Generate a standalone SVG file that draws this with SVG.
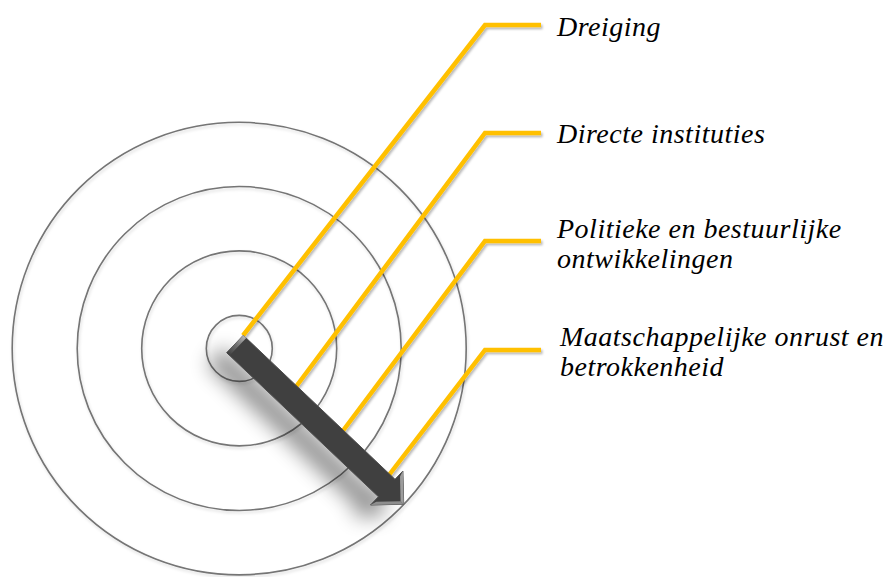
<svg xmlns="http://www.w3.org/2000/svg" xmlns:xlink="http://www.w3.org/1999/xlink" width="890" height="577" viewBox="0 0 890 577">
  <style>
    .ring { fill: none; stroke: #747474; stroke-width: 1.6; }
    .lead { fill: none; stroke: #FFC000; stroke-width: 4.5; stroke-linejoin: miter; stroke-linecap: butt; }
    .lbl { font-family: "Liberation Serif", "Times New Roman", serif; font-style: italic; font-size: 28px; letter-spacing: 0.5px; fill: #000; }
  </style>
  <defs>
    <filter id="soft" x="-10%" y="-10%" width="120%" height="120%">
      <feDropShadow dx="1.5" dy="2" stdDeviation="1.3" flood-color="#000" flood-opacity="0.28"/>
    </filter>
    <filter id="ringShadow" x="-10%" y="-10%" width="120%" height="120%">
      <feDropShadow dx="1" dy="2" stdDeviation="1.5" flood-color="#000" flood-opacity="0.15"/>
    </filter>
    <filter id="blur" x="-50%" y="-50%" width="200%" height="200%">
      <feGaussianBlur stdDeviation="10"/>
    </filter>
    <polygon id="arrowShape" points="226.7,352.7 243.3,335.3 395.0,479.3 402.9,471.0 403.7,504.2 370.5,505.0 378.4,496.7"/>
    <linearGradient id="tailBevel" x1="243.3" y1="335.3" x2="226.7" y2="352.7" gradientUnits="userSpaceOnUse">
      <stop offset="0" stop-color="#b5b5b5"/>
      <stop offset="0.5" stop-color="#6e6e6e"/>
      <stop offset="1" stop-color="#404040"/>
    </linearGradient>
  </defs>

  <rect width="890" height="577" fill="#ffffff"/>

  <g id="target" filter="url(#ringShadow)">
    <ellipse id="ring-outer" class="ring" cx="239.2" cy="348.6" rx="227" ry="226.3"/>
    <circle id="ring-3" class="ring" cx="239.2" cy="348.5" r="162"/>
    <circle id="ring-2" class="ring" cx="239.2" cy="348.4" r="97.5"/>
    <circle id="ring-core" class="ring" cx="239.3" cy="348.4" r="33"/>
  </g>

  <g id="connectors" filter="url(#soft)">
    <polyline class="lead" points="541,25 485,25 243,335.5"/>
    <polyline class="lead" points="541,133 485,133 295,388"/>
    <polyline class="lead" points="541,241 485,241 342,432"/>
    <polyline class="lead" points="541,350 485,350 389,475"/>
  </g>

  <g id="arrow">
    <use xlink:href="#arrowShape" href="#arrowShape" transform="translate(-20,12)" fill="#000" opacity="0.42" filter="url(#blur)"/>
    <use xlink:href="#arrowShape" href="#arrowShape" fill="#404040" stroke="#505050" stroke-width="1" stroke-linejoin="miter"/>
    <polygon points="226.7,352.7 243.3,335.3 246.2,338.1 229.6,355.5" fill="url(#tailBevel)"/>
    <polygon points="370.5,505.0 403.7,504.2 400.6,501.2 376.2,501.8" fill="#8e8e8e"/>
    <polygon points="402.9,471.0 403.7,504.2 400.6,501.2 400.0,476.5" fill="#9c9c9c"/>
  </g>

  <g id="node-dreiging">
    <text class="lbl" x="557" y="36">Dreiging</text>
  </g>
  <g id="node-directe-instituties">
    <text class="lbl" x="557" y="143">Directe instituties</text>
  </g>
  <g id="node-politieke">
    <text class="lbl" x="557" y="238">Politieke en bestuurlijke</text>
    <text class="lbl" x="557" y="268">ontwikkelingen</text>
  </g>
  <g id="node-maatschappelijke">
    <text class="lbl" x="560" y="346">Maatschappelijke onrust en</text>
    <text class="lbl" x="560" y="376">betrokkenheid</text>
  </g>
</svg>
